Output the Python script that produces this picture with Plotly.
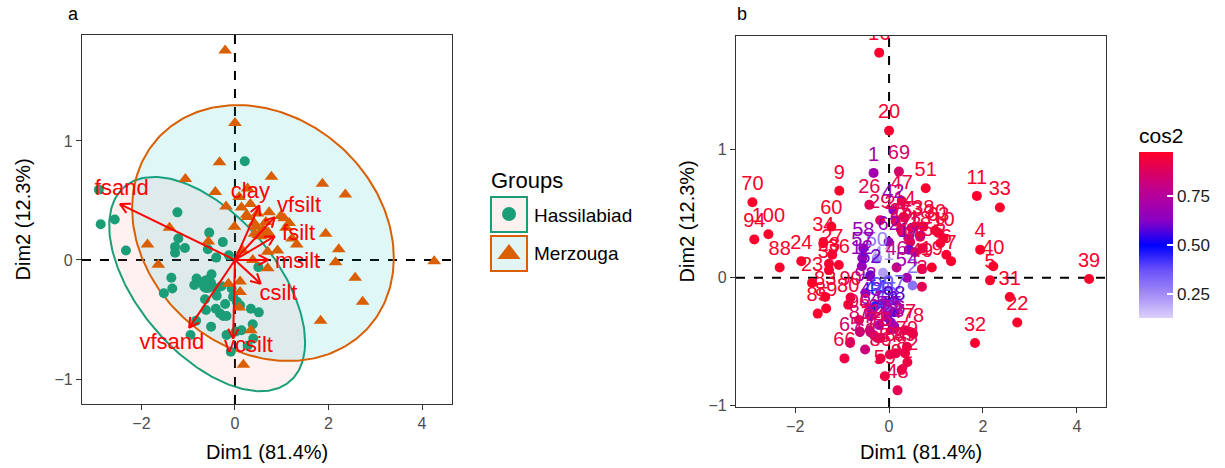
import numpy as np
import plotly.graph_objects as go

# ---------------- data ----------------
point_id = list(range(1, 101))
dim1 = [-0.33, 0.50, 0.70, 1.94, 2.15, 1.22, 1.32, 1.09, -1.06, 1.16,
        1.87, -0.58, 0.45, 0.33, 0.27, -0.21, 0.42, 0.66, 0.91, 0.00,
        0.14, 2.73, -1.64, -1.87, 0.25, -0.42, -1.21, -1.28, -0.19, 0.98,
        2.57, 1.83, 2.36, -1.40, 0.55, -1.07, -1.28, 0.73, 4.26, 2.22,
        -0.13, 0.09, -0.39, -0.29, -0.07, 0.16, 0.27, 0.18, 0.70, -0.26,
        0.78, -0.40, -0.04, 0.38, 0.04, 0.11, -0.57, -0.55, -0.09, -1.23,
        0.41, -0.01, 1.05, -0.39, -0.83, -0.95, -0.21, -0.51, 0.21, -2.91,
        -0.41, -0.25, 0.48, -0.32, 0.71, -0.18, 0.34, 0.51, 0.38, -0.87,
        -0.62, 0.39, -1.36, 0.14, -1.52, -0.18, 0.02, -2.33, -1.34, -0.82,
        0.27, -0.50, 0.09, -2.87, -0.14, -0.64, 0.11, 0.11, 0.34, -2.57]
dim2 = [0.82, -0.06, -0.07, 0.22, -0.02, 0.18, 0.13, 0.27, 0.68, 0.31,
        0.64, 0.09, 0.28, 0.47, 0.36, 1.76, 0.22, 0.32, 0.08, 1.15,
        0.44, -0.35, -0.04, 0.13, 0.38, 0.57, 0.18, 0.11, 0.45, 0.37,
        -0.15, -0.51, 0.55, 0.27, 0.20, 0.10, 0.06, 0.40, -0.01, 0.09,
        0.04, 0.53, -0.24, -0.22, -0.24, 0.08, 0.60, -0.88, 0.07, 0.15,
        0.70, 0.02, -0.31, 0.00, -0.35, -0.38, 0.155, 0.23, -0.77, 0.40,
        0.31, 0.28, 0.35, -0.30, -0.51, -0.63, -0.37, -0.56, 0.83, 0.59,
        -0.41, -0.47, 0.39, -0.45, 0.23, -0.47, -0.41, -0.44, -0.54, -0.21,
        -0.42, -0.66, -0.15, -0.59, -0.28, -0.63, -0.60, 0.08, -0.24, -0.155,
        -0.72, -0.12, -0.40, 0.30, -0.20, -0.33, -0.18, -0.27, -0.59, 0.34]
group = ["M", "H", "M", "M", "M", "M", "M", "M", "M", "M",
         "M", "H", "M", "M", "M", "M", "M", "M", "M", "M",
         "M", "M", "M", "M", "M", "M", "H", "H", "M", "M",
         "M", "M", "M", "M", "M", "H", "H", "M", "M", "M",
         "H", "M", "H", "H", "H", "M", "M", "M", "M", "H",
         "M", "H", "H", "M", "H", "H", "M", "H", "H", "H",
         "M", "M", "M", "H", "H", "H", "H", "H", "H", "H",
         "H", "H", "M", "H", "M", "H", "H", "H", "H", "H",
         "H", "H", "H", "H", "H", "H", "H", "H", "H", "H",
         "H", "H", "M", "H", "M", "H", "M", "M", "M", "H"]
cos2 = [0.70, 0.30, 0.90, 0.97, 0.97, 0.96, 0.96, 0.95, 0.97, 0.95,
        0.97, 0.66, 0.88, 0.93, 0.90, 0.96, 0.62, 0.93, 0.96, 0.96,
        0.90, 0.97, 0.97, 0.97, 0.90, 0.90, 0.96, 0.96, 0.90, 0.95,
        0.97, 0.96, 0.97, 0.96, 0.80, 0.96, 0.96, 0.95, 0.97, 0.97,
        0.22, 0.63, 0.62, 0.45, 0.35, 0.80, 0.93, 0.90, 0.92, 0.28,
        0.96, 0.60, 0.62, 0.70, 0.65, 0.68, 0.66, 0.66, 0.93, 0.97,
        0.90, 0.66, 0.95, 0.68, 0.85, 0.93, 0.75, 0.82, 0.86, 0.97,
        0.85, 0.88, 0.93, 0.85, 0.93, 0.88, 0.90, 0.93, 0.92, 0.95,
        0.85, 0.93, 0.97, 0.90, 0.97, 0.92, 0.90, 0.97, 0.96, 0.94,
        0.93, 0.72, 0.75, 0.97, 0.40, 0.90, 0.35, 0.58, 0.92, 0.97]

group_names = {"H": "Hassilabiad", "M": "Merzouga"}

var_names = ["fsand", "clay", "vfsilt", "fsilt", "msilt", "csilt", "vcsilt", "vfsand"]
var_dim1 = [-2.46, 0.52, 0.85, 0.85, 0.71, 0.55, -0.04, -0.98]
var_dim2 = [0.47, 0.46, 0.36, 0.20, 0.00, -0.20, -0.66, -0.57]
var_label_dim1 = [-2.42, 0.33, 1.37, 1.36, 1.34, 0.93, 0.29, -1.35]
var_label_dim2 = [0.59, 0.57, 0.45, 0.21, -0.02, -0.29, -0.73, -0.70]

x_ticks = [-2, 0, 2, 4]
y_ticks = [-1, 0, 1]
cbar_ticks = [0.25, 0.50, 0.75]
cbar_ticktext = ["0.25", "0.50", "0.75"]

# ---------------- style / layout geometry ----------------
W, H = 1225, 468
A_L, A_R, A_T, A_B = 82, 452, 35, 404
B_L, B_R, B_T, B_B = 736, 1106, 36, 407
a_xr = [-3.27, 4.64]
a_yr = [-1.21, 1.89]
b_xr = [-3.26, 4.62]
b_yr = [-1.01, 1.89]
COL = {"H": "#1B9E77", "M": "#D95F02"}
FILL = {"H": "rgba(248,118,109,0.10)", "M": "rgba(0,191,196,0.12)"}
FONT = "Liberation Sans, Arial, Helvetica, sans-serif"
CMIN, CMAX = 0.13, 0.975
cs_vals = [0.13, 0.25, 0.375, 0.5, 0.625, 0.75, 0.875, 0.93, 0.975]
cs_cols = ["#DCD0FA", "#A48CF6", "#6B50F8", "#0000FF", "#8A00C4", "#B4009E", "#DC0060",
           "#EE0042", "#FF0028"]


def hex2rgb(h):
    h = h.lstrip("#")
    return np.array([int(h[i:i + 2], 16) for i in (0, 2, 4)], float)


def cmap(v):
    v = min(max(v, cs_vals[0]), cs_vals[-1])
    for i in range(len(cs_vals) - 1):
        if cs_vals[i] <= v <= cs_vals[i + 1]:
            f = (v - cs_vals[i]) / (cs_vals[i + 1] - cs_vals[i])
            c = hex2rgb(cs_cols[i]) * (1 - f) + hex2rgb(cs_cols[i + 1]) * f
            return "rgb(%d,%d,%d)" % tuple(np.round(c))
    return cs_cols[-1]


colorscale = [[(v - CMIN) / (CMAX - CMIN), c] for v, c in zip(cs_vals, cs_cols)]
colorscale[0][0] = 0.0
colorscale[-1][0] = 1.0

d1 = np.array(dim1)
d2 = np.array(dim2)
grp = np.array(group)

fig = go.Figure()

# ---------------- panel a: 95% normal concentration ellipses ----------------
t = np.linspace(0, 2 * np.pi, 240)
for g in ["H", "M"]:
    m = grp == g
    pts = np.column_stack([d1[m], d2[m]])
    dfd = len(pts) - 1
    qf = dfd / 2 * ((1 - 0.95) ** (-2 / dfd) - 1)
    r = np.sqrt(2 * qf)
    mu = pts.mean(axis=0)
    Lc = np.linalg.cholesky(np.cov(pts.T))
    e = mu[:, None] + r * Lc @ np.vstack([np.cos(t), np.sin(t)])
    fig.add_trace(go.Scatter(x=e[0], y=e[1], mode="lines", fill="toself",
                             fillcolor=FILL[g], line=dict(color=COL[g], width=2),
                             hoverinfo="skip", showlegend=False, xaxis="x", yaxis="y"))

# ---------------- panel a: points ----------------
for g, sym, sz in [("H", "circle", 10), ("M", "triangle-up", 12)]:
    m = grp == g
    fig.add_trace(go.Scatter(x=d1[m], y=d2[m], mode="markers",
                             marker=dict(symbol=sym, size=sz, color=COL[g], line=dict(width=0)),
                             name=group_names[g], showlegend=False, xaxis="x", yaxis="y"))
    fig.add_trace(go.Scatter(x=[d1[m].mean()], y=[d2[m].mean()], mode="markers",
                             marker=dict(symbol=sym, size=sz + 8, color=COL[g], line=dict(width=0)),
                             showlegend=False, hoverinfo="skip", xaxis="x", yaxis="y"))

# ---------------- panel a: variable arrows ----------------
kx = (A_R - A_L) / (a_xr[1] - a_xr[0])
ky = (A_B - A_T) / (a_yr[1] - a_yr[0])
head = 11.0
ang = np.deg2rad(28)
for vx, vy in zip(var_dim1, var_dim2):
    fig.add_trace(go.Scatter(x=[0, vx], y=[0, vy], mode="lines",
                             line=dict(color="#FF0000", width=2), hoverinfo="skip",
                             showlegend=False, xaxis="x", yaxis="y"))
    px, py = vx * kx, vy * ky
    nn = np.hypot(px, py)
    ux, uy = px / nn, py / nn
    hx, hy = [], []
    for s in (1, -1):
        ca, sa = np.cos(s * ang), np.sin(s * ang)
        rx = ux * ca - uy * sa
        ry = ux * sa + uy * ca
        hx += [vx - head * rx / kx, vx, None]
        hy += [vy - head * ry / ky, vy, None]
    fig.add_trace(go.Scatter(x=hx, y=hy, mode="lines",
                             line=dict(color="#FF0000", width=2), hoverinfo="skip",
                             showlegend=False, xaxis="x", yaxis="y"))

fig.add_trace(go.Scatter(x=var_label_dim1, y=var_label_dim2, mode="text", text=var_names,
                         textfont=dict(color="#FF0000", size=22, family=FONT),
                         hoverinfo="skip", showlegend=False, xaxis="x", yaxis="y"))

# ---------------- panel b ----------------
fig.add_trace(go.Scatter(
    x=d1, y=d2, mode="markers+text", text=[str(i) for i in point_id],
    textposition="top center",
    textfont=dict(size=20, family=FONT, color=[cmap(c) for c in cos2]),
    marker=dict(size=10, color=cos2, colorscale=colorscale, cmin=CMIN, cmax=CMAX,
                showscale=True, line=dict(width=0),
                colorbar=dict(x=1139 / W, xanchor="left", xpad=0, y=(H - 124) / H, yanchor="top",
                              lenmode="pixels", len=194, ypad=0, thickness=34, outlinewidth=0,
                              tickvals=cbar_ticks, ticktext=cbar_ticktext, ticks="inside",
                              ticklen=6, tickcolor="white", tickwidth=1.5,
                              tickfont=dict(size=17, family=FONT, color="#1a1a1a"),
                              title=dict(text="cos2", side="top",
                                         font=dict(size=21, family=FONT, color="#000")))),
    showlegend=False, xaxis="x2", yaxis="y2"))

# ---------------- legend (manual) ----------------
fig.add_trace(go.Scatter(x=[509], y=[214], mode="markers",
                         marker=dict(symbol="circle", size=14, color=COL["H"]),
                         showlegend=False, hoverinfo="skip", xaxis="x3", yaxis="y3"))
fig.add_trace(go.Scatter(x=[509], y=[254], mode="markers",
                         marker=dict(symbol="triangle-up", size=20, color=COL["M"]),
                         showlegend=False, hoverinfo="skip", xaxis="x3", yaxis="y3"))

shapes = []
for xr, yr in [("x", "y"), ("x2", "y2")]:
    shapes.append(dict(type="line", xref=xr, yref=yr + " domain", x0=0, x1=0, y0=0, y1=1,
                       line=dict(color="black", width=2, dash="dash"), layer="below"))
    shapes.append(dict(type="line", xref=xr + " domain", yref=yr, x0=0, x1=1, y0=0, y1=0,
                       line=dict(color="black", width=2, dash="dash"), layer="below"))
shapes.append(dict(type="rect", xref="x3", yref="y3", x0=491, x1=527, y0=197, y1=232,
                   line=dict(color=COL["H"], width=2), fillcolor="#FDF1F0", layer="below"))
shapes.append(dict(type="rect", xref="x3", yref="y3", x0=491, x1=527, y0=236, y1=271,
                   line=dict(color=COL["M"], width=2), fillcolor="#E1F5F5", layer="below"))


def ann(text, x, y, size, xanchor="left", angle=0, color="black"):
    return dict(text=text, x=x, y=y, xref="x3", yref="y3", showarrow=False,
                xanchor=xanchor, yanchor="middle", textangle=angle,
                font=dict(size=size, family=FONT, color=color))


annotations = [
    ann("a", 66, 14, 18),
    ann("b", 735, 14, 18),
    ann("Groups", 489, 180, 22),
    ann("Hassilabiad", 532, 215, 19),
    ann("Merzouga", 532, 253, 19),
    ann("Dim1 (81.4%)", (A_L + A_R) / 2, 452, 20, "center"),
    ann("Dim1 (81.4%)", (B_L + B_R) / 2, 452, 20, "center"),
    ann("Dim2 (12.3%)", 22, (A_T + A_B) / 2, 20, "center", -90),
    ann("Dim2 (12.3%)", 686, (B_T + B_B) / 2, 20, "center", -90),
]

axis_common = dict(showgrid=False, zeroline=False, showline=True, mirror=True,
                   linecolor="#333333", linewidth=1.3, ticks="outside", ticklen=5,
                   tickwidth=1.2, tickcolor="#333333",
                   tickfont=dict(size=16, family=FONT, color="#4D4D4D"))

fig.update_layout(
    width=W, height=H, margin=dict(l=0, r=0, t=0, b=0, autoexpand=False),
    paper_bgcolor="white", plot_bgcolor="rgba(0,0,0,0)",
    font=dict(family=FONT),
    xaxis=dict(domain=[A_L / W, A_R / W], range=a_xr, tickvals=x_ticks, anchor="y", **axis_common),
    yaxis=dict(domain=[(H - A_B) / H, (H - A_T) / H], range=a_yr, tickvals=y_ticks, anchor="x", **axis_common),
    xaxis2=dict(domain=[B_L / W, B_R / W], range=b_xr, tickvals=x_ticks, anchor="y2", **axis_common),
    yaxis2=dict(domain=[(H - B_B) / H, (H - B_T) / H], range=b_yr, tickvals=y_ticks, anchor="x2", **axis_common),
    xaxis3=dict(domain=[0, 1], range=[0, W], visible=False, anchor="y3", fixedrange=True),
    yaxis3=dict(domain=[0, 1], range=[H, 0], visible=False, anchor="x3", fixedrange=True),
    shapes=shapes, annotations=annotations, showlegend=False,
)

fig.write_html("out.html", config={"displayModeBar": False},
               post_script="document.body.style.margin='0';document.body.style.padding='0';")
